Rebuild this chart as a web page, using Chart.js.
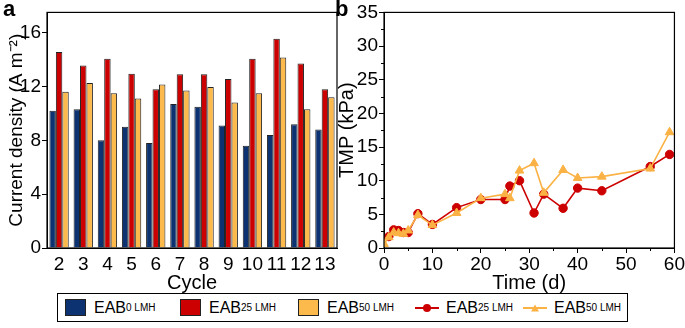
<!DOCTYPE html>
<html lang="en">
<head>
  <meta charset="UTF-8">
  <title>EAB current density and TMP</title>
  <script src="https://cdn.jsdelivr.net/npm/chart.js"></script>
  <style>
    body { margin: 0; background: #fff; font-family: "Liberation Sans", Arial, sans-serif; }
    #wrap { position: relative; width: 685px; height: 328px; overflow: hidden; }
    canvas { position: absolute; top: 0; }
    .panel { position: absolute; top: -4px; font-size: 22px; font-weight: bold; }
    #legend {
      position: absolute; left: 57px; top: 293px; width: 569px; height: 27px;
      border: 1px solid #000; display: flex; align-items: center; font-size: 16px; background: #fff;
    }
    .item { position: absolute; display: flex; align-items: center; white-space: nowrap; }
    .sq { width: 19px; height: 15px; border: 1px solid #222; margin-right: 8px; }
    .item sub { font-size: 10px; vertical-align: -5px; }
    .ln { position: relative; width: 24px; height: 2px; margin-right: 7px; }
    .ln i { position: absolute; left: 50%; top: 50%; transform: translate(-50%, -50%); }
  </style>
</head>
<body>
<div id="wrap">
  <canvas id="barChart" width="345" height="295" style="left:0"></canvas>
  <canvas id="lineChart" width="350" height="295" style="left:335px"></canvas>
  <div class="panel" style="left:3px">a</div>
  <div class="panel" style="left:335px">b</div>
  <div id="legend">
    <div class="item" style="left:7px"><span class="sq" style="background:#0c3272"></span>EAB<sub>0 LMH</sub></div>
    <div class="item" style="left:122px"><span class="sq" style="background:#cc0000"></span>EAB<sub>25 LMH</sub></div>
    <div class="item" style="left:240px"><span class="sq" style="background:#fcb94c"></span>EAB<sub>50 LMH</sub></div>
    <div class="item" style="left:357px"><span class="ln" style="background:#cc0000"><i style="width:8px;height:8px;border-radius:50%;background:#cc0000"></i></span>EAB<sub>25 LMH</sub></div>
    <div class="item" style="left:465px"><span class="ln" style="background:#fbb245"><i style="width:0;height:0;border-left:4px solid transparent;border-right:4px solid transparent;border-bottom:7px solid #fbb245"></i></span>EAB<sub>50 LMH</sub></div>
  </div>
</div>

<script>
// panel a: current density per cycle
const cycles = ['2', '3', '4', '5', '6', '7', '8', '9', '10', '11', '12', '13'];
const eab0 = [10.2, 10.3, 8.0, 9.0, 7.8, 10.7, 10.5, 9.1, 7.6, 8.4, 9.2, 8.8];
const eab25 = [14.55, 13.55, 14.05, 12.95, 11.8, 12.9, 12.9, 12.55, 14.05, 15.55, 13.7, 11.8];
const eab50 = [11.6, 12.25, 11.5, 11.1, 12.15, 11.7, 11.95, 10.8, 11.5, 14.15, 10.3, 11.2];
const densityTicks = [0, 4, 8, 12, 16];

// panel b: TMP over time
const timeRed = [1, 2, 3, 4, 5, 7, 10, 15, 20, 25, 26, 28, 31, 33, 37, 40, 45, 55, 59];
const tmpRed = [1.7, 2.7, 2.6, 2.3, 2.3, 5.1, 3.5, 6.0, 7.2, 7.2, 9.2, 10.0, 5.2, 8.0, 5.9, 8.9, 8.5, 12.1, 13.9];
const timeYel = [0, 1, 2, 3, 4, 5, 7, 10, 15, 20, 25, 26, 28, 31, 33, 37, 40, 45, 55, 59];
const tmpYel = [0.6, 1.6, 2.3, 2.2, 2.1, 2.6, 4.9, 3.4, 5.2, 7.4, 8.0, 7.4, 11.5, 12.6, 8.2, 11.6, 10.4, 10.6, 11.8, 17.2];
const tmpMinor = [2.5, 7.5, 12.5, 17.5, 22.5, 27.5, 32.5];
const timeMinor = [5, 15, 25, 35, 45, 55];

const font = { family: '"Liberation Sans", Arial, sans-serif', size: 19 };
const titleFont = { family: '"Liberation Sans", Arial, sans-serif', size: 20 };

// box around the plot area
const frame = {
  id: 'frame',
  afterDraw(chart) {
    const a = chart.chartArea, c = chart.ctx;
    c.save();
    c.strokeStyle = '#000';
    c.lineWidth = 1.2;
    c.strokeRect(a.left, a.top, a.right - a.left, a.bottom - a.top);
    c.restore();
  }
};

// short minor ticks (outside) for panel b
const minorTicks = {
  id: 'minorTicks',
  afterDraw(chart) {
    const c = chart.ctx, a = chart.chartArea;
    const xs = chart.scales.x, ys = chart.scales.y;
    c.save();
    c.strokeStyle = '#000';
    c.lineWidth = 1;
    c.beginPath();
    tmpMinor.forEach(v => {
      const y = Math.round(ys.getPixelForValue(v)) + 0.5;
      c.moveTo(a.left, y); c.lineTo(a.left - 3, y);
    });
    timeMinor.forEach(v => {
      const x = Math.round(xs.getPixelForValue(v)) + 0.5;
      c.moveTo(x, a.bottom); c.lineTo(x, a.bottom + 3);
    });
    c.stroke();
    c.restore();
  }
};

const barStyle = (color) => ({
  backgroundColor: color,
  borderColor: '#222',
  borderWidth: 1,
  categoryPercentage: 0.8,
  barPercentage: 1.0
});

new Chart(document.getElementById('barChart'), {
  type: 'bar',
  data: {
    labels: cycles,
    datasets: [
      { label: 'EAB 0 LMH', data: eab0, ...barStyle('#0c3272') },
      { label: 'EAB 25 LMH', data: eab25, ...barStyle('#cc0000') },
      { label: 'EAB 50 LMH', data: eab50, ...barStyle('#fcb94c') }
    ]
  },
  options: {
    responsive: false,
    animation: false,
    layout: { padding: { top: 12, right: 8, left: 0, bottom: 0 } },
    plugins: { legend: { display: false }, tooltip: { enabled: false } },
    scales: {
      x: {
        grid: { display: false, drawTicks: false },
        border: { color: '#000', width: 1 },
        ticks: { color: '#000', font, padding: 5, maxRotation: 0, autoSkip: false },
        title: { display: true, text: 'Cycle', color: '#000', font: titleFont, padding: { top: 3, bottom: 0 } },
        afterFit: s => { s.height = 47; }
      },
      y: {
        min: 0,
        max: 17.5,
        afterBuildTicks: s => { s.ticks = densityTicks.map(v => ({ value: v })); },
        grid: { drawOnChartArea: false, tickLength: 5, color: '#000' },
        border: { color: '#000', width: 1 },
        ticks: { color: '#000', font, padding: 1 },
        title: { display: true, text: 'Current density (A m⁻²)', color: '#000', font: { ...titleFont, size: 19 }, padding: { top: 5, bottom: 0 } },
        afterFit: s => { s.width = 47; }
      }
    }
  },
  plugins: [frame]
});

new Chart(document.getElementById('lineChart'), {
  type: 'line',
  data: {
    datasets: [
      {
        label: 'EAB 50 LMH',
        data: timeYel.map((t, i) => ({ x: t, y: tmpYel[i] })),
        borderColor: '#fbb245',
        backgroundColor: '#fbb245',
        borderWidth: 1.6,
        pointStyle: 'triangle',
        pointRadius: 5,
        pointBorderWidth: 1,
        tension: 0
      },
      {
        label: 'EAB 25 LMH',
        data: timeRed.map((t, i) => ({ x: t, y: tmpRed[i] })),
        borderColor: '#cc0000',
        backgroundColor: '#cc0000',
        borderWidth: 1.6,
        pointStyle: 'circle',
        pointRadius: 4.2,
        pointBorderWidth: 1,
        tension: 0
      }
    ]
  },
  options: {
    responsive: false,
    animation: false,
    layout: { padding: { top: 12, right: 7, left: 0, bottom: 0 } },
    plugins: { legend: { display: false }, tooltip: { enabled: false } },
    scales: {
      x: {
        type: 'linear',
        min: 0,
        max: 60,
        ticks: { stepSize: 10, color: '#000', font, padding: 0 },
        grid: { drawOnChartArea: false, tickLength: 5, color: '#000' },
        border: { color: '#000', width: 1 },
        title: { display: true, text: 'Time (d)', color: '#000', font: titleFont, padding: { top: 3, bottom: 0 } },
        afterFit: s => { s.height = 47; }
      },
      y: {
        min: 0,
        max: 35,
        ticks: { stepSize: 5, color: '#000', font, padding: 1 },
        grid: { drawOnChartArea: false, tickLength: 5, color: '#000' },
        border: { color: '#000', width: 1 },
        title: { display: true, text: 'TMP (kPa)', color: '#000', font: titleFont, padding: { top: 0, bottom: 0 } },
        afterFit: s => { s.width = 49; }
      }
    }
  },
  plugins: [frame, minorTicks]
});
</script>
</body>
</html>
